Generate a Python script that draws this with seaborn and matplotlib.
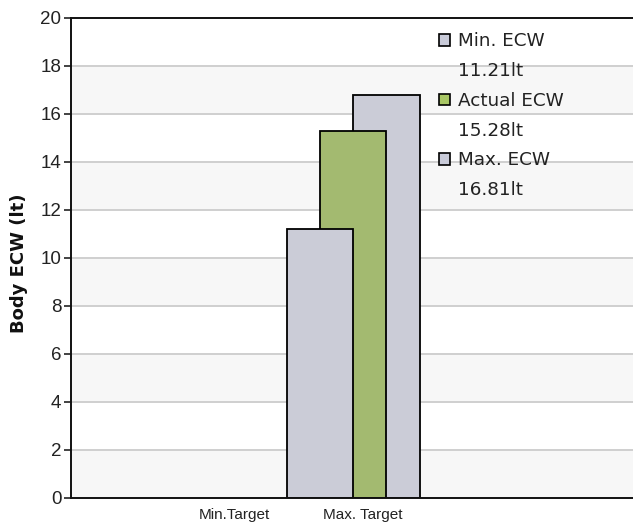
import numpy as np
import pandas as pd
import matplotlib
matplotlib.use("Agg")
import matplotlib.pyplot as plt
from matplotlib.patches import Patch
import seaborn as sns

# ── Data ────────────────────────────────────────────────────────────────────
SERIES = ["Min. ECW", "Actual ECW", "Max. ECW"]
VALUES = [11.21, 15.28, 16.81]
UNIT = "lt"
TARGET_LABELS = ["Min.Target", "Max. Target"]
Y_TICKS = [0, 2, 4, 6, 8, 10, 12, 14, 16, 18, 20]
Y_LABEL = "Body ECW (lt)"

# ── Styles ──────────────────────────────────────────────────────────────────
GREY = "#c9cbd9"
GREEN = "#a8c664"
COLORS = [GREY, GREEN, GREY]
BAND = "#f7f7f7"
GRID = "#cccccc"

sns.set_theme(style="white")
plt.rcParams["font.family"] = ["DejaVu Sans"]

# bars overlap by half a bar width; positions in "bar width" units
pos = [i * 0.5 for i in range(len(SERIES))]
df = pd.DataFrame({"pos": pos, "value": VALUES, "series": SERIES})

fig = plt.figure(figsize=(6.33, 5.25), dpi=100)
ax = fig.add_axes([71 / 633, 27 / 525, 562 / 633, 480 / 525])

# alternating horizontal bands + grid lines
for lo in Y_TICKS[:-1:2]:
    ax.axhspan(lo, lo + 2, color=BAND, zorder=0, lw=0)
for t in Y_TICKS[1:-1]:
    ax.axhline(t, color=GRID, lw=1.3, zorder=0.5)

n_before = len(ax.patches)
sns.barplot(data=df, x="pos", y="value", hue="series", hue_order=SERIES,
            palette=COLORS, native_scale=True, dodge=False, width=2.0,
            edgecolor="black", linewidth=1.3, legend=False, ax=ax)

# draw order: first bar on top, last at the back
bars = ax.patches[n_before:]
for i, p in enumerate(bars):
    p.set_zorder(3 + len(bars) - i)

ax.set_xlim(-3.744, 4.707)
ax.set_ylim(0, 20)
ax.set_yticks(Y_TICKS)
ax.set_yticklabels([str(t) for t in Y_TICKS], family="Liberation Sans",
                   fontsize=13.5, color="#222222")
ax.tick_params(axis="y", length=5, width=1.2, color="#222222", pad=2, left=True)
ax.set_xticks([-1.293, 0.647])
ax.set_xticklabels(TARGET_LABELS, family="Liberation Sans",
                   fontsize=11, color="#222222")
ax.tick_params(axis="x", length=0, pad=7)
ax.set_xlabel("")
ax.set_ylabel(Y_LABEL, fontsize=13, fontweight="bold", color="#111111")
ax.yaxis.set_label_coords(-0.0765, 0.49)

for s in ["left", "bottom", "top"]:
    ax.spines[s].set_visible(True)
    ax.spines[s].set_color("#111111")
    ax.spines[s].set_linewidth(1.4)
    ax.spines[s].set_zorder(10)
ax.spines["right"].set_visible(False)

# legend: name line with a square, value line without
handles, labels = [], []
for name, val, col in zip(SERIES, VALUES, COLORS):
    handles.append(Patch(facecolor=col, edgecolor="black", lw=1.2))
    labels.append(name)
    handles.append(Patch(facecolor="none", edgecolor="none"))
    labels.append(f"{val:.2f}{UNIT}")
leg = ax.legend(handles, labels, loc="upper left", bbox_to_anchor=(0.655, 0.97),
                frameon=False, fontsize=13.2, handlelength=0.6, handleheight=0.6,
                handletextpad=0.45, labelspacing=0.64, borderpad=0, borderaxespad=0)
leg.set_zorder(20)
for txt in leg.get_texts():
    txt.set_color("#222222")

fig.savefig("out.png", dpi=100)
